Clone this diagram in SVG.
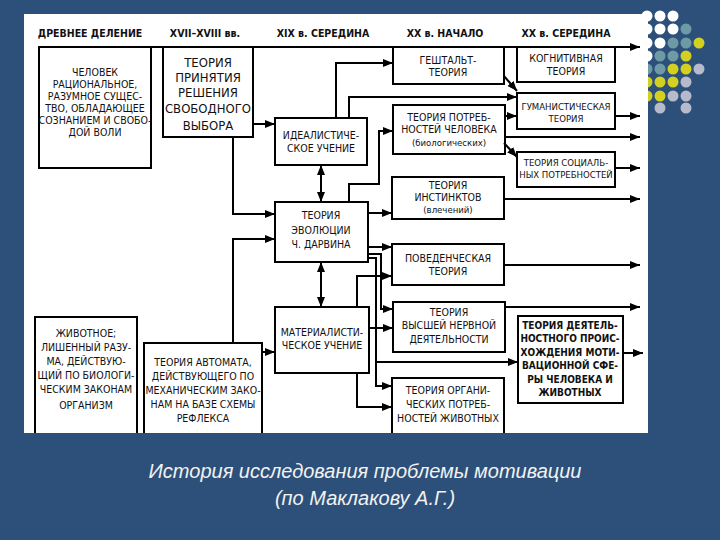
<svg xmlns="http://www.w3.org/2000/svg" width="720" height="540" viewBox="0 0 720 540">
<defs>
<marker id="a" markerUnits="userSpaceOnUse" markerWidth="10" markerHeight="8" refX="10" refY="4" orient="auto-start-reverse"><path d="M0,0 L10,4 L0,8 z" fill="#000"/></marker>
<style>
.bx{fill:none;stroke:#000;stroke-width:2}
.ln{fill:none;stroke:#000;stroke-width:2;marker-end:url(#a)}
.dbl{fill:none;stroke:#000;stroke-width:2;marker-end:url(#a);marker-start:url(#a)}
text{font-family:"Liberation Sans Narrow","DejaVu Sans Condensed","Liberation Sans",sans-serif;fill:#111;text-anchor:middle}
.h{font-size:10.5px;font-weight:bold}
.t{font-size:10.5px}
.s{font-size:9.5px}
.b{font-size:10px;font-weight:bold}
.big{font-size:13px}
.cap{font-family:"Liberation Sans",Arial,sans-serif;font-style:italic;font-size:20px;fill:#F2F2F2}
</style>
</defs>
<rect width="720" height="540" fill="#2C5079"/>
<g id="dots">
<circle cx="647" cy="16" r="5.5" fill="#fff"/><circle cx="660" cy="16" r="5.5" fill="#fff"/><circle cx="673" cy="16" r="5.5" fill="#fff"/>
<circle cx="647" cy="29" r="5.5" fill="#fff"/><circle cx="660" cy="29" r="5.5" fill="#fff"/><circle cx="673" cy="29" r="5.5" fill="#fff"/><circle cx="686" cy="29" r="5.5" fill="#6E9AA6"/>
<circle cx="647" cy="43" r="5.5" fill="#fff"/><circle cx="660" cy="43" r="5.5" fill="#fff"/><circle cx="673" cy="43" r="5.5" fill="#6E9AA6"/><circle cx="686" cy="43" r="5.5" fill="#6E9AA6"/><circle cx="699" cy="43" r="5.5" fill="#D4D021"/>
<circle cx="647" cy="56" r="5.5" fill="#fff"/><circle cx="660" cy="56" r="5.5" fill="#6E9AA6"/><circle cx="673" cy="56" r="5.5" fill="#6E9AA6"/><circle cx="686" cy="56" r="5.5" fill="#D4D021"/>
<circle cx="647" cy="69" r="5.5" fill="#6E9AA6"/><circle cx="660" cy="69" r="5.5" fill="#6E9AA6"/><circle cx="673" cy="69" r="5.5" fill="#D4D021"/><circle cx="686" cy="69" r="5.5" fill="#D4D021"/><circle cx="699" cy="69" r="5.5" fill="#B6BACB"/>
<circle cx="647" cy="82" r="5.5" fill="#D4D021"/><circle cx="660" cy="82" r="5.5" fill="#D4D021"/><circle cx="673" cy="82" r="5.5" fill="#D4D021"/><circle cx="686" cy="82" r="5.5" fill="#B6BACB"/>
<circle cx="647" cy="96" r="5.5" fill="#D4D021"/><circle cx="660" cy="96" r="5.5" fill="#D4D021"/><circle cx="673" cy="96" r="5.5" fill="#B6BACB"/><circle cx="686" cy="96" r="5.5" fill="#B6BACB"/>
<circle cx="660" cy="108" r="5.5" fill="#B6BACB"/><circle cx="686" cy="108" r="5.5" fill="#B6BACB"/>
</g>
<rect id="panel" x="24" y="14" width="624" height="419" fill="#fff"/>
<g id="headers">
<text class="h" x="90" y="37">ДРЕВНЕЕ ДЕЛЕНИЕ</text>
<text class="h" x="205" y="37">XVII–XVIII вв.</text>
<text class="h" x="323" y="37">XIX в. СЕРЕДИНА</text>
<text class="h" x="445" y="37">XX в. НАЧАЛО</text>
<text class="h" x="566" y="37">XX в. СЕРЕДИНА</text>
</g>
<g id="connectors">
<path class="ln" d="M39,47 H640"/>
<path class="ln" d="M253,124 H275"/>
<path class="ln" d="M233,137 V214 H275"/>
<path class="ln" d="M233,343 V239 H275"/>
<path class="dbl" d="M321,165 V202"/>
<path class="dbl" d="M321,262 V307"/>
<path class="ln" d="M262,352 H275"/>
<path class="ln" d="M336,118 V63 H393"/>
<path class="ln" d="M349,118 V97 H517"/>
<path class="ln" d="M504,76 L517,91"/>
<path class="ln" d="M505,116 H517"/>
<path class="ln" d="M615,116 H640"/>
<path class="ln" d="M505,137 H640"/>
<path class="ln" d="M504,143 L517,157"/>
<path class="ln" d="M615,168 H640"/>
<path class="ln" d="M349,202 V184 H379 V131 H393"/>
<path class="ln" d="M368,213 H392"/>
<path class="ln" d="M504,199 H640"/>
<path class="ln" d="M368,247 H392"/>
<path class="ln" d="M357,307 V276 H392"/>
<path class="ln" d="M504,265 H640"/>
<path class="ln" d="M368,254 H381 V309 H393"/>
<path class="ln" d="M368,258 H376 V386 H392"/>
<path class="ln" d="M376,362 H518"/>
<path class="ln" d="M369,328 H393"/>
<path class="ln" d="M357,373 V407 H392"/>
<path class="ln" d="M505,307 H640"/>
<path class="ln" d="M623,353 H643"/>
</g>
<g id="human"><rect class="bx" x="39" y="47" width="112" height="121"/>
<text class="t" x="95" y="76">ЧЕЛОВЕК</text><text class="t" x="95" y="88">РАЦИОНАЛЬНОЕ,</text><text class="t" x="95" y="100">РАЗУМНОЕ СУЩЕС-</text><text class="t" x="95" y="112">ТВО, ОБЛАДАЮЩЕЕ</text><text class="t" x="95" y="124">СОЗНАНИЕМ И СВОБО-</text><text class="t" x="95" y="136">ДОЙ ВОЛИ</text></g>
<g id="decision"><rect class="bx" x="163" y="47" width="90" height="90"/>
<text class="big" x="208" y="67">ТЕОРИЯ</text><text class="big" x="208" y="82">ПРИНЯТИЯ</text><text class="big" x="208" y="97">РЕШЕНИЯ</text><text class="big" x="208" y="113">СВОБОДНОГО</text><text class="big" x="208" y="130">ВЫБОРА</text></g>
<g id="idealist"><rect class="bx" x="275" y="118" width="92" height="47"/>
<text class="t" x="321" y="139">ИДЕАЛИСТИЧЕ-</text><text class="t" x="321" y="152">СКОЕ УЧЕНИЕ</text></g>
<g id="evolution"><rect class="bx" x="275" y="202" width="93" height="60"/>
<text class="t" x="321" y="219">ТЕОРИЯ</text><text class="t" x="321" y="234">ЭВОЛЮЦИИ</text><text class="t" x="321" y="248">Ч. ДАРВИНА</text></g>
<g id="material"><rect class="bx" x="275" y="307" width="94" height="66"/>
<text class="t" x="322" y="336">МАТЕРИАЛИСТИ-</text><text class="t" x="322" y="349">ЧЕСКОЕ УЧЕНИЕ</text></g>
<g id="animal"><path class="bx" d="M35,433 V317 H137 V433"/>
<text class="t" x="86" y="337">ЖИВОТНОЕ;</text><text class="t" x="86" y="351">ЛИШЕННЫЙ РАЗУ-</text><text class="t" x="86" y="365">МА, ДЕЙСТВУЮ-</text><text class="t" x="86" y="379">ЩИЙ ПО БИОЛОГИ-</text><text class="t" x="86" y="393">ЧЕСКИМ ЗАКОНАМ</text><text class="t" x="86" y="409">ОРГАНИЗМ</text></g>
<g id="automat"><path class="bx" d="M144,433 V343 H262 V433"/>
<text class="t" x="203" y="366">ТЕОРИЯ АВТОМАТА,</text><text class="t" x="203" y="380">ДЕЙСТВУЮЩЕГО ПО</text><text class="t" x="203" y="394">МЕХАНИЧЕСКИМ ЗАКО-</text><text class="t" x="203" y="408">НАМ НА БАЗЕ СХЕМЫ</text><text class="t" x="203" y="422">РЕФЛЕКСА</text></g>
<g id="gestalt"><rect class="bx" x="393" y="47" width="111" height="37"/>
<text class="t" x="448" y="64">ГЕШТАЛЬТ-</text><text class="t" x="448" y="76">ТЕОРИЯ</text></g>
<g id="needs"><rect class="bx" x="393" y="105" width="112" height="49"/>
<text class="t" x="449" y="121">ТЕОРИЯ ПОТРЕБ-</text><text class="t" x="449" y="133">НОСТЕЙ ЧЕЛОВЕКА</text><text class="s" x="449" y="146">(биологических)</text></g>
<g id="instincts"><rect class="bx" x="392" y="177" width="112" height="42"/>
<text class="t" x="448" y="189">ТЕОРИЯ</text><text class="t" x="448" y="201">ИНСТИНКТОВ</text><text class="s" x="448" y="213">(влечений)</text></g>
<g id="behavior"><rect class="bx" x="392" y="244" width="112" height="41"/>
<text class="t" x="448" y="262">ПОВЕДЕНЧЕСКАЯ</text><text class="t" x="448" y="275">ТЕОРИЯ</text></g>
<g id="higher"><rect class="bx" x="393" y="302" width="112" height="50"/>
<text class="t" x="449" y="316">ТЕОРИЯ</text><text class="t" x="449" y="329">ВЫСШЕЙ НЕРВНОЙ</text><text class="t" x="449" y="343">ДЕЯТЕЛЬНОСТИ</text></g>
<g id="organic"><path class="bx" d="M392,433 V378 H504 V433"/>
<text class="t" x="448" y="394">ТЕОРИЯ ОРГАНИ-</text><text class="t" x="448" y="408">ЧЕСКИХ ПОТРЕБ-</text><text class="t" x="448" y="422">НОСТЕЙ ЖИВОТНЫХ</text></g>
<g id="cognitive"><rect class="bx" x="517" y="47" width="98" height="35"/>
<text class="t" x="566" y="62">КОГНИТИВНАЯ</text><text class="t" x="566" y="75">ТЕОРИЯ</text></g>
<g id="humanistic"><rect class="bx" x="517" y="93" width="98" height="36"/>
<text class="s" x="566" y="110">ГУМАНИСТИЧЕСКАЯ</text><text class="s" x="566" y="122">ТЕОРИЯ</text></g>
<g id="social"><rect class="bx" x="517" y="152" width="98" height="35"/>
<text class="s" x="566" y="166">ТЕОРИЯ СОЦИАЛЬ-</text><text class="s" x="566" y="178">НЫХ ПОТРЕБНОСТЕЙ</text></g>
<g id="activity"><rect class="bx" x="518" y="316" width="105" height="87"/>
<text class="b" x="570" y="329">ТЕОРИЯ ДЕЯТЕЛЬ-</text><text class="b" x="570" y="342">НОСТНОГО ПРОИС-</text><text class="b" x="570" y="356">ХОЖДЕНИЯ МОТИ-</text><text class="b" x="570" y="369">ВАЦИОННОЙ СФЕ-</text><text class="b" x="570" y="383">РЫ ЧЕЛОВЕКА И</text><text class="b" x="570" y="396">ЖИВОТНЫХ</text></g>
<g id="caption">
<text class="cap" x="365" y="478">История исследования проблемы мотивации</text>
<text class="cap" x="365" y="505">(по Маклакову А.Г.)</text>
</g>
</svg>
